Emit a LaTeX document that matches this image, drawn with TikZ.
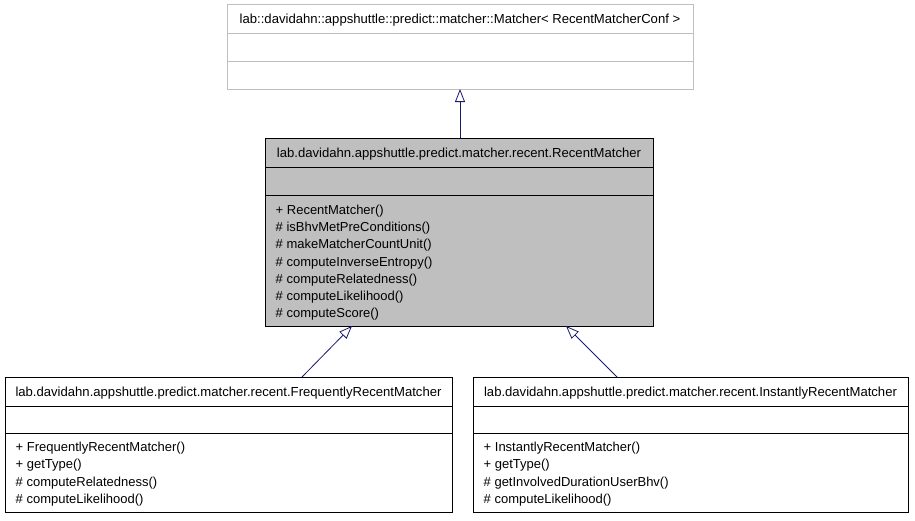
\documentclass[tikz,border=0pt]{standalone}
\usepackage{fontspec}
\setmainfont{Liberation Sans}
\usetikzlibrary{arrows.meta}
\definecolor{edgeblue}{HTML}{191970}
\definecolor{boxgray}{HTML}{BFBFBF}
\definecolor{framegray}{HTML}{BFBFBF}
\begin{document}
\begin{tikzpicture}[x=1pt,y=-1pt,
  classbox/.style={draw=black, line width=0.8pt, inner sep=0pt, anchor=north west},
  divider/.style={draw=black, line width=0.8pt},
  classtitle/.style={font=\fontsize{13.1}{15}\selectfont, inner sep=0pt, anchor=base},
  member/.style={font=\fontsize{13}{15}\selectfont, inner sep=0pt, anchor=base west},
  inherit/.style={draw=edgeblue, line width=0.8pt,
    -{Triangle[open, length=13pt, width=10pt, fill=white]}}]
\useasboundingbox (0,0) rectangle (915,520);

% template base class
\node[classbox, draw=framegray, minimum width=466pt, minimum height=85pt] (base) at (227,4) {};
\draw[divider, draw=framegray] (227,33) -- (693,33);
\draw[divider, draw=framegray] (227,61) -- (693,61);
\node[classtitle] (base-title) at (460,23.5)
  {lab::davidahn::appshuttle::predict::matcher::Matcher< RecentMatcherConf >};

% RecentMatcher
\node[classbox, fill=boxgray, minimum width=388pt, minimum height=188pt] (rm) at (265,138) {};
\draw[divider] (265,167) -- (653,167);
\draw[divider] (265,195) -- (653,195);
\node[classtitle] (rm-title) at (459,157.5)
  {lab.davidahn.appshuttle.predict.matcher.recent.RecentMatcher};
\foreach \txt [count=\i] in {+ RecentMatcher(), \# isBhvMetPreConditions(),
    \# makeMatcherCountUnit(), \# computeInverseEntropy(), \# computeRelatedness(),
    \# computeLikelihood(), \# computeScore()}
  \node[member] (rm-m\i) at (275.5,{214.5+17.2*(\i-1)}) {\txt};

% FrequentlyRecentMatcher
\node[classbox, minimum width=447pt, minimum height=135pt] (frm) at (5,377) {};
\draw[divider] (5,406) -- (452,406);
\draw[divider] (5,433) -- (452,433);
\node[classtitle] (frm-title) at (228.5,396.5)
  {lab.davidahn.appshuttle.predict.matcher.recent.FrequentlyRecentMatcher};
\foreach \txt [count=\i] in {+ FrequentlyRecentMatcher(), + getType(),
    \# computeRelatedness(), \# computeLikelihood()}
  \node[member] (frm-m\i) at (15.5,{451.5+17.4*(\i-1)}) {\txt};

% InstantlyRecentMatcher
\node[classbox, minimum width=435pt, minimum height=135pt] (irm) at (473,377) {};
\draw[divider] (473,406) -- (908,406);
\draw[divider] (473,433) -- (908,433);
\node[classtitle] (irm-title) at (690.5,396.5)
  {lab.davidahn.appshuttle.predict.matcher.recent.InstantlyRecentMatcher};
\foreach \txt [count=\i] in {+ InstantlyRecentMatcher(), + getType(),
    \# getInvolvedDurationUserBhv(), \# computeLikelihood()}
  \node[member] (irm-m\i) at (483.5,{451.5+17.4*(\i-1)}) {\txt};

% inheritance edges
\coordinate (base-foot) at (460,89);
\coordinate (rm-head) at (460,138);
\coordinate (rm-left-foot) at (352,326);
\coordinate (rm-right-foot) at (566,326);
\coordinate (frm-head) at (302,377);
\coordinate (irm-head) at (617,377);
\draw[inherit] (rm-head) -- (base-foot);
\draw[inherit] (frm-head) -- (rm-left-foot);
\draw[inherit] (irm-head) -- (rm-right-foot);
\end{tikzpicture}
\end{document}
